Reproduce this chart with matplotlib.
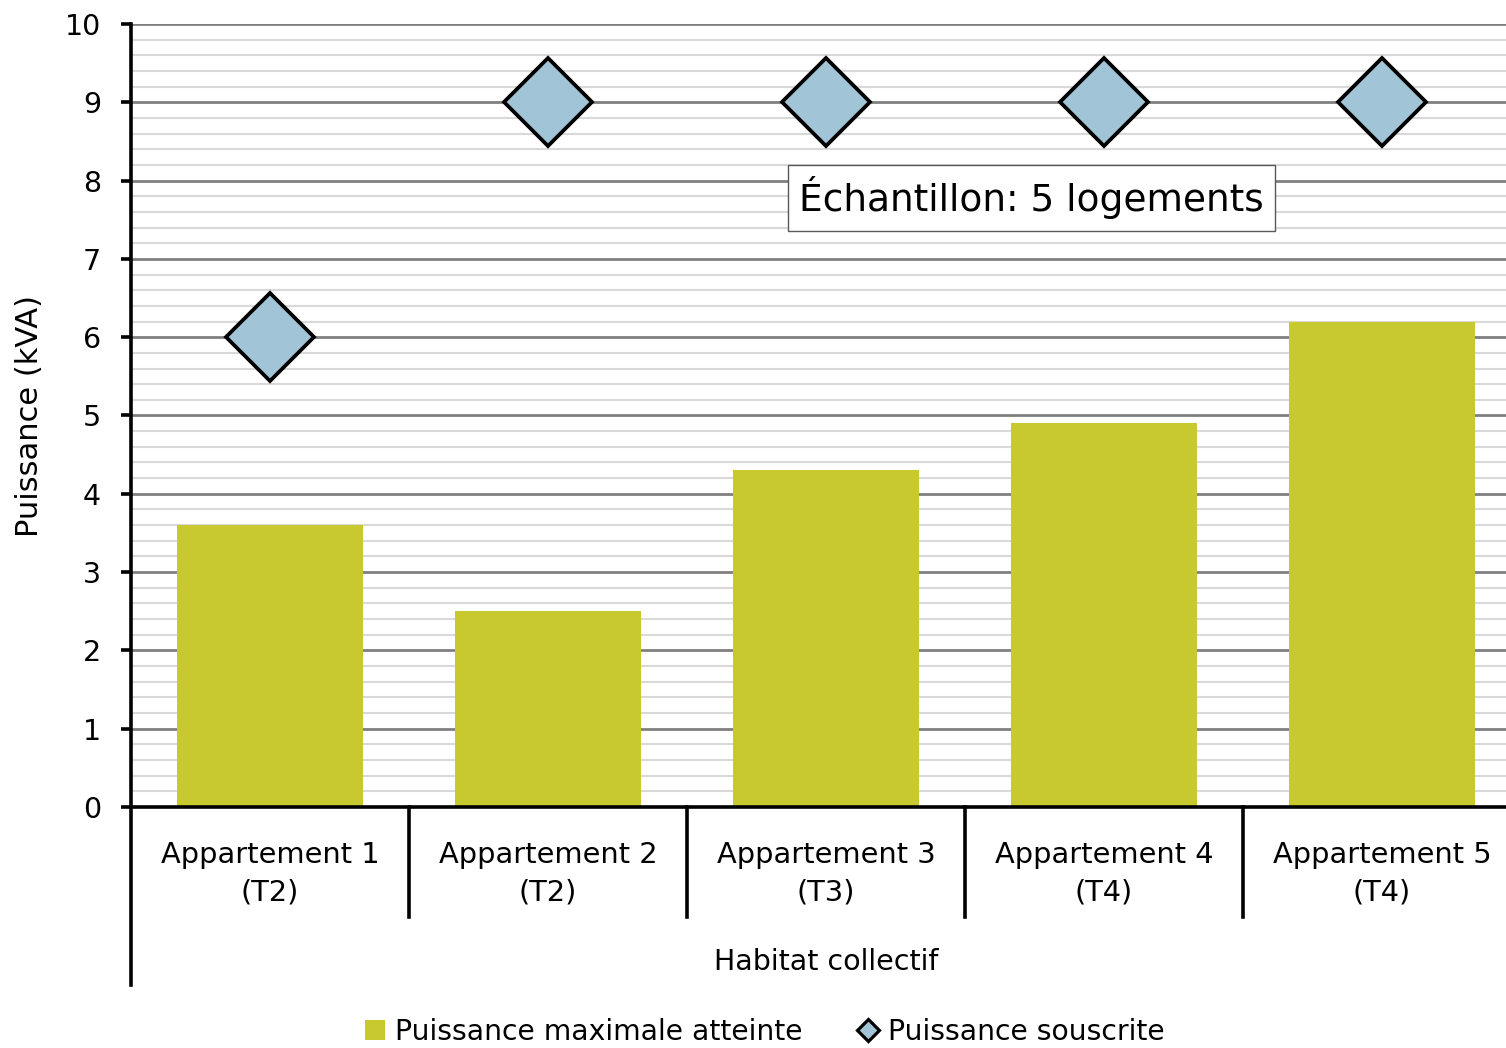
import matplotlib
matplotlib.use("Agg")
import matplotlib.pyplot as plt
from matplotlib.lines import Line2D
from matplotlib.patches import Patch
from matplotlib.ticker import MultipleLocator
import matplotlib.transforms as mtransforms

categories = ["Appartement 1\n(T2)", "Appartement 2\n(T2)", "Appartement 3\n(T3)",
              "Appartement 4\n(T4)", "Appartement 5\n(T4)"]
group_label = "Habitat collectif"
puissance_max = [3.6, 2.5, 4.3, 4.9, 6.2]
puissance_souscrite = [6, 9, 9, 9, 9]
series_names = ["Puissance maximale atteinte", "Puissance souscrite"]

bar_color = "#c8c92f"
diamond_color = "#a1c4d6"

plt.rcParams['font.family'] = ['DejaVu Sans']

fig = plt.figure(figsize=(15.06, 10.48), dpi=100)
ax = fig.add_axes([131 / 1506, 1 - 807 / 1048, 5 * 278 / 1506, 783 / 1048])

x = list(range(len(categories)))
ax.bar(x, puissance_max, width=0.67, color=bar_color, zorder=3)
ax.plot(x, puissance_souscrite, linestyle='none', marker='D', markersize=44.5,
        markerfacecolor=diamond_color, markeredgecolor='black',
        markeredgewidth=2.7, zorder=4, clip_on=False)

ax.set_xlim(-0.5, len(categories) - 0.5)
ax.set_ylim(0, 10)
ax.yaxis.set_major_locator(MultipleLocator(1))
ax.yaxis.set_minor_locator(MultipleLocator(0.2))
ax.grid(which='major', axis='y', color='#808080', linewidth=2.0, zorder=1)
ax.grid(which='minor', axis='y', color='#d9d9d9', linewidth=1.5, zorder=0)
ax.set_axisbelow(True)

for s in ['top', 'right', 'left']:
    ax.spines[s].set_visible(False)
ax.spines['bottom'].set_linewidth(2.6)
ax.spines['bottom'].set_zorder(5)

ax.tick_params(axis='y', which='major', length=7.5, width=2.6, pad=14,
               labelsize=20.5, color='black')
ax.tick_params(axis='y', which='minor', length=0)
ax.set_xticks([])

# left axis line extending down through the category area
ax.plot([0, 0], [1, -0.2273], transform=ax.transAxes, color='black',
        linewidth=2.6, clip_on=False, zorder=6)

# category separators and labels
trans = mtransforms.blended_transform_factory(ax.transData, ax.transAxes)
for b in [i + 0.5 for i in x[:-1]]:
    ax.plot([b, b], [0, -0.1405], transform=trans, color='black',
            linewidth=2.6, clip_on=False)
for i, lab in zip(x, categories):
    ax.text(i, -0.0856, lab, transform=trans, ha='center', va='center',
            fontsize=20.8, linespacing=1.45)
ax.text(2, -0.198, group_label, transform=trans, ha='center', va='center',
        fontsize=20.5)

fig.text(30 / 1506, 1 - 416 / 1048, "Puissance (kVA)", rotation=90,
         ha='center', va='center', fontsize=22)

ax.text(2.74, 7.78, "Échantillon: 5 logements", ha='center', va='center',
        fontsize=27, zorder=7,
        bbox=dict(boxstyle='square,pad=0.3', facecolor='white',
                  edgecolor='#595959', linewidth=1))

handles = [
    Patch(facecolor=bar_color, edgecolor='none'),
    Line2D([], [], linestyle='none', marker='D', markersize=11,
           markerfacecolor=diamond_color, markeredgecolor='black',
           markeredgewidth=2.3),
]
fig.legend(handles, series_names, loc='center', bbox_to_anchor=(765 / 1506, 0.0153),
           ncol=2, frameon=False, fontsize=20.3, handlelength=0.7,
           handleheight=0.7, handletextpad=0.35, columnspacing=2.0)

fig.savefig("out.png", dpi=100)
